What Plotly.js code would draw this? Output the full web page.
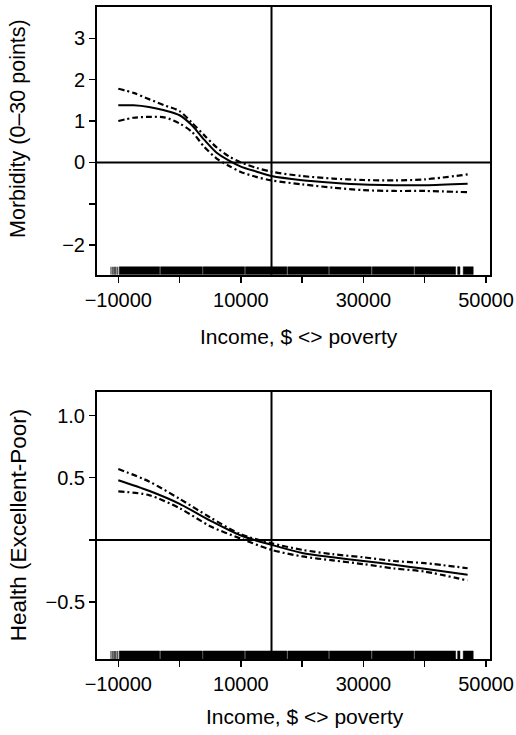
<!DOCTYPE html>
<html><head><meta charset="utf-8">
<script src="https://cdn.plot.ly/plotly-3.0.1.min.js"></script>
<style>html,body{margin:0;padding:0;background:#fff}#chart{width:516px;height:735px}</style>
</head><body><div id="chart"></div>
<script>
// ---- data ----
const incomeTop = [-10000,-7500,-5000,-2500,0,2000,4000,6000,8000,10000,12500,15000,20000,25000,30000,35000,40000,47000];
const morbEst   = [1.38,1.38,1.34,1.26,1.14,0.90,0.55,0.24,0.05,-0.10,-0.22,-0.33,-0.43,-0.49,-0.535,-0.55,-0.55,-0.515];
const morbUpper = [1.78,1.68,1.53,1.38,1.24,0.96,0.66,0.37,0.15,0.0,-0.13,-0.225,-0.33,-0.39,-0.425,-0.435,-0.41,-0.29];
const morbLower = [1.0,1.08,1.10,1.09,0.94,0.74,0.38,0.10,-0.08,-0.23,-0.35,-0.435,-0.53,-0.61,-0.67,-0.69,-0.69,-0.72];

const incomeBot = [-10000,-5000,0,5000,10000,15000,20000,25000,30000,35000,40000,47000];
const healthEst   = [0.48,0.395,0.29,0.155,0.035,-0.04,-0.105,-0.14,-0.17,-0.2,-0.233,-0.28];
const healthUpper = [0.57,0.47,0.33,0.18,0.045,-0.027,-0.08,-0.115,-0.14,-0.17,-0.187,-0.228];
const healthLower = [0.39,0.36,0.255,0.11,0.01,-0.08,-0.133,-0.165,-0.195,-0.23,-0.255,-0.327];

const rugStart = [-11190,-10910,-10700,-10540,-10375,-10100,-9840,-3100,3840,10740,17650,24450,31420,38370,45370,46280];
const rugEnd   = [-11130,-10850,-10640,-10480,-10300,-10020,-3250,3720,10600,17510,24310,31280,38230,45040,45750,47910];

const xTickVals = [-10000,0,10000,20000,30000,40000,50000];
const xTickText = ['\u221210000','','10000','','30000','','50000'];
const yTopVals = [-2,-1,0,1,2,3];
const yTopText = ['\u22122','','0','1','2','3'];
const yBotVals = [-0.5,0,0.5,1];
const yBotText = ['\u22120.5','','0.5','1.0'];
const refIncome = 15000;   // vertical reference line
const refY = 0;            // horizontal reference line

const xTitle = 'Income, $ <> poverty';
const yTopTitle = 'Morbidity (0\u201330 points)';
const yBotTitle = 'Health (Excellent-Poor)';

// ---- drawing ----
const FONT = 'Liberation Sans, Arial, Helvetica, sans-serif';
const dashDot = '6px,3px,2px,3px';
function curve(x, y, xa, ya, dash, w){
  return {x:x, y:y, xaxis:xa, yaxis:ya, type:'scatter', mode:'lines',
    line:{color:'#000', width:w, dash:dash, shape:'spline', smoothing:0.8},
    hoverinfo:'skip', showlegend:false};
}
// rug polygons on a hidden 0..1 overlay axis
function rug(xa, ya){
  const xs = [], ys = [];
  rugStart.forEach((s,i)=>{
    xs.push(s, s, rugEnd[i], rugEnd[i], s, null);
    ys.push(0, 0.03, 0.03, 0, 0, null);
  });
  return {x:xs, y:ys, xaxis:xa, yaxis:ya, type:'scatter', mode:'lines', fill:'toself',
    fillcolor:'#000', line:{color:'#000', width:0.5}, hoverinfo:'skip', showlegend:false};
}
const traces = [
  rug('x','y3'),
  rug('x2','y4'),
  curve(incomeTop, morbUpper, 'x','y', dashDot, 2.2),
  curve(incomeTop, morbLower, 'x','y', dashDot, 2.2),
  curve(incomeTop, morbEst,   'x','y', 'solid', 2),
  curve(incomeBot, healthUpper, 'x2','y2', dashDot, 2.2),
  curve(incomeBot, healthLower, 'x2','y2', dashDot, 2.2),
  curve(incomeBot, healthEst,   'x2','y2', 'solid', 2)
];

const shapes = [];
[['x','y'],['x2','y2']].forEach(([xa,ya])=>{
  shapes.push({type:'line', xref:xa, yref:ya+' domain', x0:refIncome, x1:refIncome, y0:0, y1:1, line:{color:'#000', width:2}, layer:'above'});
  shapes.push({type:'line', xref:xa+' domain', yref:ya, x0:0, x1:1, y0:refY, y1:refY, line:{color:'#000', width:2}, layer:'above'});
});

function xaxis(domainAnchor){
  return {domain:[0,1], anchor:domainAnchor, range:[-13475,50650], tickvals:xTickVals, ticktext:xTickText,
    showline:true, mirror:true, linewidth:2, linecolor:'#000', ticks:'outside', ticklen:6, tickwidth:1.5, tickcolor:'#000',
    showgrid:false, zeroline:false, tickfont:{family:FONT, size:20, color:'#000'}};
}
function yaxis(domain, range, vals, text, anchor){
  return {domain:domain, anchor:anchor, range:range, tickvals:vals, ticktext:text,
    showline:true, mirror:true, linewidth:2, linecolor:'#000', ticks:'outside', ticklen:6, tickwidth:1.5, tickcolor:'#000',
    showgrid:false, zeroline:false, tickfont:{family:FONT, size:20, color:'#000'}};
}
function hiddenY(overlay){
  return {overlaying:overlay, range:[0,1], visible:false, showgrid:false, zeroline:false, fixedrange:true};
}

const layout = {
  width:516, height:735, margin:{l:97, r:26, t:7, b:76}, paper_bgcolor:'#fff', plot_bgcolor:'#fff',
  showlegend:false,
  xaxis: xaxis('y'),
  yaxis: yaxis([0.5892,1], [-2.717,3.756], yTopVals, yTopText, 'x'),
  xaxis2: xaxis('y2'),
  yaxis2: yaxis([0,0.4102], [-0.958,1.193], yBotVals, yBotText, 'x2'),
  yaxis3: Object.assign(hiddenY('y'), {anchor:'x'}),
  yaxis4: Object.assign(hiddenY('y2'), {anchor:'x2'}),
  shapes: shapes,
  annotations:[
    {text:xTitle, xref:'paper', yref:'paper', x:0.514, y:0.494, xanchor:'center', yanchor:'middle', showarrow:false, font:{family:FONT, size:21, color:'#000'}},
    {text:xTitle, xref:'paper', yref:'paper', x:0.53, y:-0.088, xanchor:'center', yanchor:'middle', showarrow:false, font:{family:FONT, size:21, color:'#000'}},
    {text:yTopTitle, xref:'paper', yref:'paper', x:-0.201, y:0.813, xanchor:'center', yanchor:'middle', textangle:-90, showarrow:false, font:{family:FONT, size:21.5, color:'#000'}},
    {text:yBotTitle, xref:'paper', yref:'paper', x:-0.201, y:0.205, xanchor:'center', yanchor:'middle', textangle:-90, showarrow:false, font:{family:FONT, size:22.5, color:'#000'}}
  ]
};
Plotly.newPlot('chart', traces, layout, {staticPlot:true, displayModeBar:false});
</script>
</body></html>
